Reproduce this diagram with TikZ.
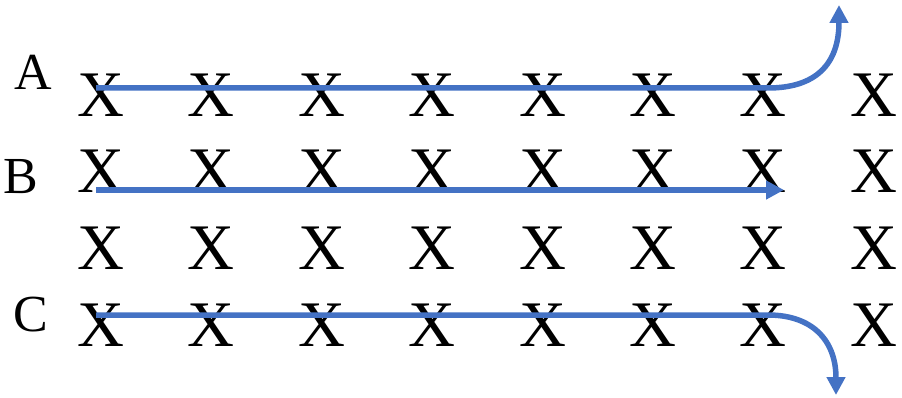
\documentclass[tikz,border=0pt]{standalone}
\usepackage{fontspec}
\setmainfont{Liberation Serif}
\usetikzlibrary{arrows.meta}
\definecolor{arrblue}{HTML}{4472C4}
\tikzset{
  xmark/.style={inner sep=0pt, font=\fontsize{65}{65}\selectfont},
  rowlabel/.style={inner sep=0pt, font=\fontsize{52}{52}\selectfont},
  flow/.style={draw=arrblue, line width=5.5pt, -{Triangle[length=18pt,width=18pt]}}
}
\begin{document}
\begin{tikzpicture}[x=1pt,y=-1pt]
\useasboundingbox (0,0) rectangle (902,398);
\foreach \r/\yy in {1/95,2/171,3/248,4/325}{
  \foreach \c in {1,...,8}{
    \node[xmark] (x-\r-\c) at ({101+(\c-1)*110.4},\yy) {X};
  }
}
\node[rowlabel] (lA) at (33,72) {A};
\node[rowlabel] (lB) at (21,177) {B};
\node[rowlabel] (lC) at (31,315) {C};
\coordinate (a0) at (96,88);
\coordinate (a1) at (768,88);
\coordinate (a2) at (839,5);
\coordinate (b0) at (96,190);
\coordinate (b1) at (784,190);
\coordinate (c0) at (96,315);
\coordinate (c1) at (768,315);
\coordinate (c2) at (836,395);
\draw[flow] (a0) -- (a1) .. controls (815,88) and (839,65) .. (a2);
\draw[flow] (b0) -- (b1);
\draw[flow] (c0) -- (c1) .. controls (812,315) and (836,340) .. (c2);
\end{tikzpicture}
\end{document}
